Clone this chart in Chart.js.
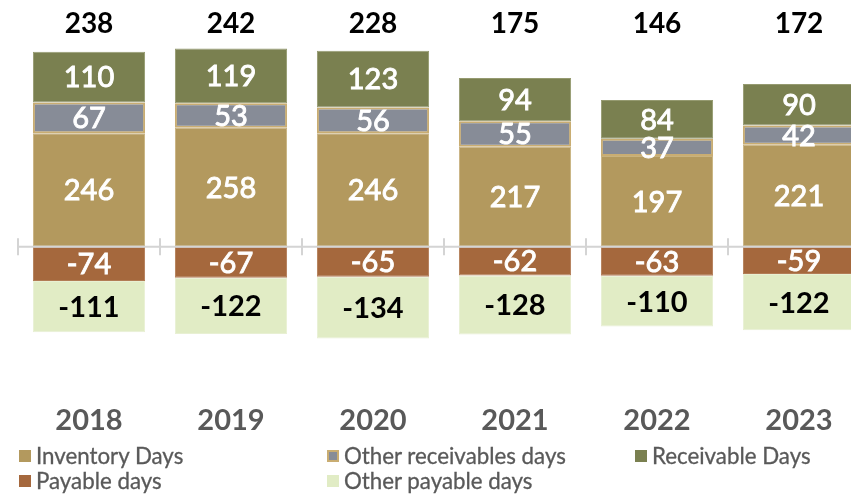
<!DOCTYPE html>
<html>
<head>
<meta charset="utf-8">
<script src="https://cdn.jsdelivr.net/npm/chart.js@4.4.1/dist/chart.umd.min.js"></script>
<style>
  body { margin: 0; background: #fff; overflow: hidden; width: 851px; height: 494px; }
  #wrap { position: absolute; left: 0; top: 0; width: 880px; height: 458px; }
  #leyenda { position: absolute; left: 0; top: 442px; width: 851px; height: 52px; font-family: Lato, sans-serif; font-size: 22.3px; color: #595959; -webkit-text-stroke: 0.3px #595959; }
  .item { position: absolute; display: flex; align-items: center; white-space: nowrap; }
  .caja { width: 12px; height: 12px; margin-right: 5px; box-sizing: border-box; }
</style>
</head>
<body>
<div id="wrap"><canvas id="myChart"></canvas></div>
<div id="leyenda"></div>
<script>
const anios = ["2018", "2019", "2020", "2021", "2022", "2023"]
const inventario = [246, 258, 246, 217, 197, 221]
const otrasCxC = [67, 53, 56, 55, 37, 42]
const cuentasCobrar = [110, 119, 123, 94, 84, 90]
const cuentasPagar = [-74, -67, -65, -62, -63, -59]
const otrasCxP = [-111, -122, -134, -128, -110, -122]
// capital de trabajo neto en días, como viene reportado
const totales = [238, 242, 228, 175, 146, 172]

const series = [
    { label: "Inventory Days", data: inventario, color: "#b3995e", borde: "#c8b27f", borderWidth: 1, texto: "#ffffff", bold: false },
    { label: "Other receivables days", data: otrasCxC, color: "#878c97", borde: "#c9ad72", borderWidth: 2, texto: "#ffffff", bold: false },
    { label: "Receivable Days", data: cuentasCobrar, color: "#7a8050", borde: "#959a70", borderWidth: 1, texto: "#ffffff", bold: false },
    { label: "Payable days", data: cuentasPagar, color: "#a5683d", borde: "#b27c55", borderWidth: 1, texto: "#ffffff", bold: false },
    { label: "Other payable days", data: otrasCxP, color: "#e1ecc5", borde: "#e8f0d3", borderWidth: 1, texto: "#000000", bold: true }
]

const nivelTotales = 484

const etiquetas = {
    id: "etiquetas",
    afterDatasetsDraw(chart) {
        const ctx = chart.ctx
        const x = chart.scales.x
        const y = chart.scales.y
        const area = chart.chartArea
        const y0 = y.getPixelForValue(0)

        // eje en cero con marcas entre categorias
        ctx.save()
        ctx.strokeStyle = "#d4d4d4"
        ctx.lineWidth = 2
        ctx.beginPath()
        ctx.moveTo(area.left, y0)
        ctx.lineTo(area.right, y0)
        const paso = (area.right - area.left) / anios.length
        for (let i = 0; i <= anios.length; i++) {
            const px = Math.round(area.left + i * paso)
            ctx.moveTo(px, y0 - 8.5)
            ctx.lineTo(px, y0 + 8.5)
        }
        ctx.stroke()

        ctx.textAlign = "center"
        ctx.textBaseline = "middle"
        chart.data.datasets.forEach((ds, d) => {
            const meta = chart.getDatasetMeta(d)
            const s = series[d]
            ctx.fillStyle = s.texto
            ctx.strokeStyle = s.texto
            ctx.lineWidth = 0.9
            ctx.font = (s.bold ? "bold " : "") + "29px Lato"
            meta.data.forEach((bar, i) => {
                const c = bar.getCenterPoint()
                ctx.fillText(ds.data[i], c.x, c.y + 1)
                // trazo fino para engrosar un poco la fuente normal
                if (!s.bold) ctx.strokeText(ds.data[i], c.x, c.y + 1)
            })
        })

        ctx.fillStyle = "#000000"
        ctx.font = "bold 28px Lato"
        totales.forEach((t, i) => {
            ctx.fillText(t, x.getPixelForValue(i), y.getPixelForValue(nivelTotales))
        })
        ctx.restore()
    }
}

const grafica = new Chart(document.querySelector("#myChart"), {
    type: "bar",
    data: {
        labels: anios,
        datasets: series.map(s => ({
            label: s.label,
            data: s.data,
            backgroundColor: s.color,
            borderColor: s.borde,
            borderWidth: s.borderWidth,
            borderSkipped: false
        }))
    },
    options: {
        responsive: true,
        maintainAspectRatio: false,
        animation: false,
        layout: { padding: { left: 18, right: 10, top: 0, bottom: 2 } },
        datasets: { bar: { categoryPercentage: 1, barPercentage: 0.79 } },
        scales: {
            x: {
                stacked: true,
                grid: { display: false, drawTicks: false },
                border: { display: false },
                ticks: { color: "#595959", padding: 18, font: { family: "Lato", size: 29, weight: "bold" } }
            },
            y: {
                stacked: true,
                display: false,
                min: -300,
                max: 535
            }
        },
        plugins: {
            legend: { display: false },
            tooltip: { enabled: false }
        }
    },
    plugins: [etiquetas]
})

// leyenda en tres columnas
const columnas = [19, 327, 635]
const leyenda = document.querySelector("#leyenda")
grafica.data.datasets.forEach((ds, i) => {
    const item = document.createElement("div")
    item.className = "item"
    item.style.left = columnas[i % 3] + "px"
    item.style.top = (i < 3 ? 0 : 25) + "px"
    const caja = document.createElement("span")
    caja.className = "caja"
    caja.style.background = ds.backgroundColor
    if (ds.borderWidth > 1) caja.style.border = "2px solid " + ds.borderColor
    const texto = document.createElement("span")
    texto.textContent = ds.label
    item.appendChild(caja)
    item.appendChild(texto)
    leyenda.appendChild(item)
})
</script>
</body>
</html>
